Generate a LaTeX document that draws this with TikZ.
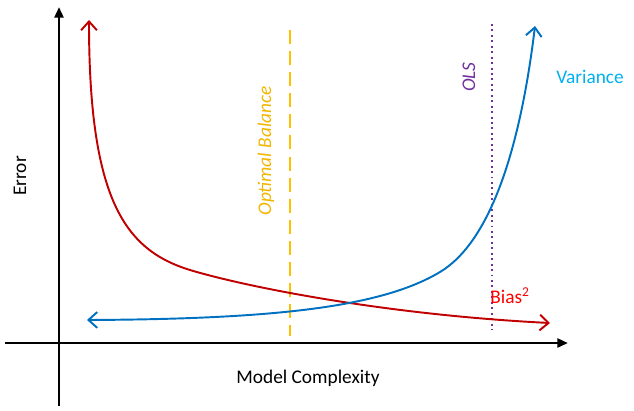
\documentclass[tikz,border=0pt]{standalone}
\usepackage{fontspec}
\setmainfont{Carlito}
\usetikzlibrary{arrows.meta}
\definecolor{biasred}{HTML}{C00000}
\definecolor{varblue}{HTML}{0070C0}
\definecolor{balyellow}{HTML}{FFC000}
\definecolor{olspurple}{HTML}{7030A0}
\definecolor{labred}{HTML}{FF0000}
\definecolor{labblue}{HTML}{00B0F0}
\tikzset{
  axis/.style={line width=1.5pt,-{Triangle[length=6pt,width=5pt]}},
  curve/.style={line width=1.1pt,{Straight Barb[length=5pt,width=9pt]}-{Straight Barb[length=5pt,width=9pt]}},
  lab/.style={font=\fontsize{11}{13}\selectfont,inner sep=0pt}
}
\begin{document}
\begin{tikzpicture}[x=0.02cm,y=-0.02cm]
\useasboundingbox (0,0) rectangle (634,410);
\coordinate (xs) at (5,343);
\coordinate (xe) at (568,343);
\coordinate (ys) at (59,406);
\coordinate (ye) at (59,7);
\draw[axis] (xs) -- (xe);
\draw[axis] (ys) -- (ye);
\node[lab] (xlab) at (308,378) {Model Complexity};
\node[lab,rotate=90] (ylab) at (20,176) {Error};

% optimal balance and OLS
\coordinate (bt) at (290,30);
\coordinate (bb) at (290,336);
\draw[balyellow,line width=1.1pt,dash pattern=on 8pt off 4pt] (bt) -- (bb);
\node[lab,rotate=90,balyellow!95!black] (bal) at (266,151) {\itshape Optimal Balance};
\coordinate (ot) at (492,24);
\coordinate (ob) at (492,330);
\draw[olspurple,line width=1.1pt,dotted] (ot) -- (ob);
\node[lab,rotate=90,olspurple] (ols) at (469,77) {\itshape OLS};

% bias and variance
\coordinate (b0) at (89,20);
\coordinate (b1) at (190,270);
\coordinate (b2) at (550,323);
\draw[biasred,curve] (b0) .. controls (89,200) and (125,250) .. (b1)
  .. controls (250,288) and (390,315) .. (b2);
\coordinate (v0) at (87,320);
\coordinate (v1) at (440,272);
\coordinate (v2) at (535,26);
\draw[varblue,curve] (v0) .. controls (270,319) and (380,308) .. (v1)
  .. controls (490,242) and (520,150) .. (v2);
\node[lab,labblue] (var) at (590,77) {Variance};
\node[lab,labred,anchor=west] (bias) at (490,296) {Bias\textsuperscript{2}};
\end{tikzpicture}
\end{document}
